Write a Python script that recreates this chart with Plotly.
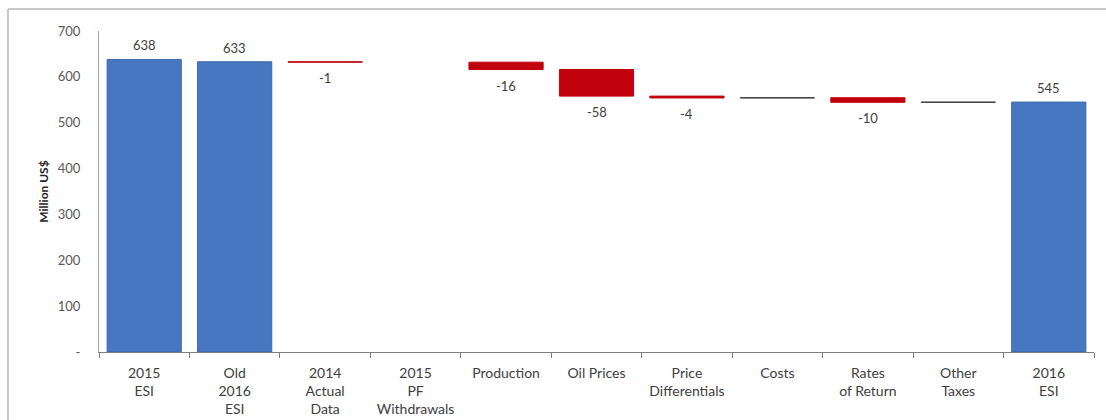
import plotly.graph_objects as go

# Bridge from the 2015 ESI to the 2016 ESI (million US$)
categories = [
    "2015<br>ESI", "Old<br>2016<br>ESI", "2014<br>Actual<br>Data", "2015<br>PF<br>Withdrawals",
    "Production", "Oil Prices", "Price<br>Differentials", "Costs", "Rates<br>of Return",
    "Other<br>Taxes", "2016<br>ESI",
]
measures = ["absolute", "absolute", "relative", "relative", "relative", "relative",
            "relative", "relative", "relative", "relative", "absolute"]
values = [638, 633, -1, 0, -16, -58, -4, 0.5, -10, 0.5, 545]
show_label = [True, True, True, False, True, True, True, False, True, False, True]

y_ticks = [0, 100, 200, 300, 400, 500, 600, 700]
y_ticktext = ["-" if v == 0 else str(v) for v in y_ticks]

FONT = "Lato, 'Open Sans', sans-serif"

fig = go.Figure()
fig.add_trace(go.Waterfall(
    x=categories,
    y=values,
    measure=measures,
    totals=dict(marker=dict(color="#4677C0", line=dict(color="#3A69AE", width=1))),
    decreasing=dict(marker=dict(color="#C0000C", line=dict(color="#C0000C", width=1))),
    increasing=dict(marker=dict(color="#3A3A3A", line=dict(color="#3A3A3A", width=1))),
    connector=dict(visible=False),
    textinfo="none",
    showlegend=False,
))

# value labels: above the totals, below the decreases
level = 0.0
annotations = []
for cat, m, v, show in zip(categories, measures, values, show_label):
    if m == "absolute":
        level = v
        anchor, shift = "bottom", 4
    else:
        level += v
        anchor, shift = "top", -6
    if show:
        annotations.append(dict(
            x=cat, y=level, xref="x", yref="y", text=f"{v:,.0f}",
            showarrow=False, yanchor=anchor, yshift=shift,
            font=dict(family=FONT, size=13, color="#404040"),
        ))

# light frame around the chart
frame = [
    dict(type="line", xref="paper", yref="paper", x0=-0.0915, x1=1.02, y0=1.0685, y1=1.0685,
         line=dict(color="#C8C8C8", width=2)),
    dict(type="line", xref="paper", yref="paper", x0=-0.0915, x1=-0.0915, y0=1.0685, y1=-0.25,
         line=dict(color="#C8C8C8", width=2)),
]

fig.update_layout(
    width=1106, height=420,
    margin=dict(l=99, r=12, t=31, b=68),
    paper_bgcolor="white", plot_bgcolor="white",
    waterfallgap=0.18,
    font=dict(family=FONT, color="#404040"),
    annotations=annotations,
    shapes=frame,
    xaxis=dict(
        type="category", range=[-0.5, 10.5], automargin=False,
        tickson="boundaries", ticks="outside", ticklen=5, tickcolor="#7F7F7F",
        showline=True, linecolor="#7F7F7F", linewidth=1,
        showgrid=False, tickfont=dict(family=FONT, size=14, color="#404040"),
        ticklabelstandoff=8,
    ),
    yaxis=dict(
        range=[0, 700], tickvals=y_ticks, ticktext=y_ticktext, automargin=False,
        showline=True, linecolor="#A6A6A6", linewidth=1,
        showgrid=False, zeroline=False, ticks="",
        tickfont=dict(family=FONT, size=13, color="#595959"),
        ticklabelstandoff=15,
        title=dict(text="<b>Million US$</b>", standoff=6,
                   font=dict(family=FONT, size=12, color="#262626")),
    ),
)

fig.write_html("out.html")
